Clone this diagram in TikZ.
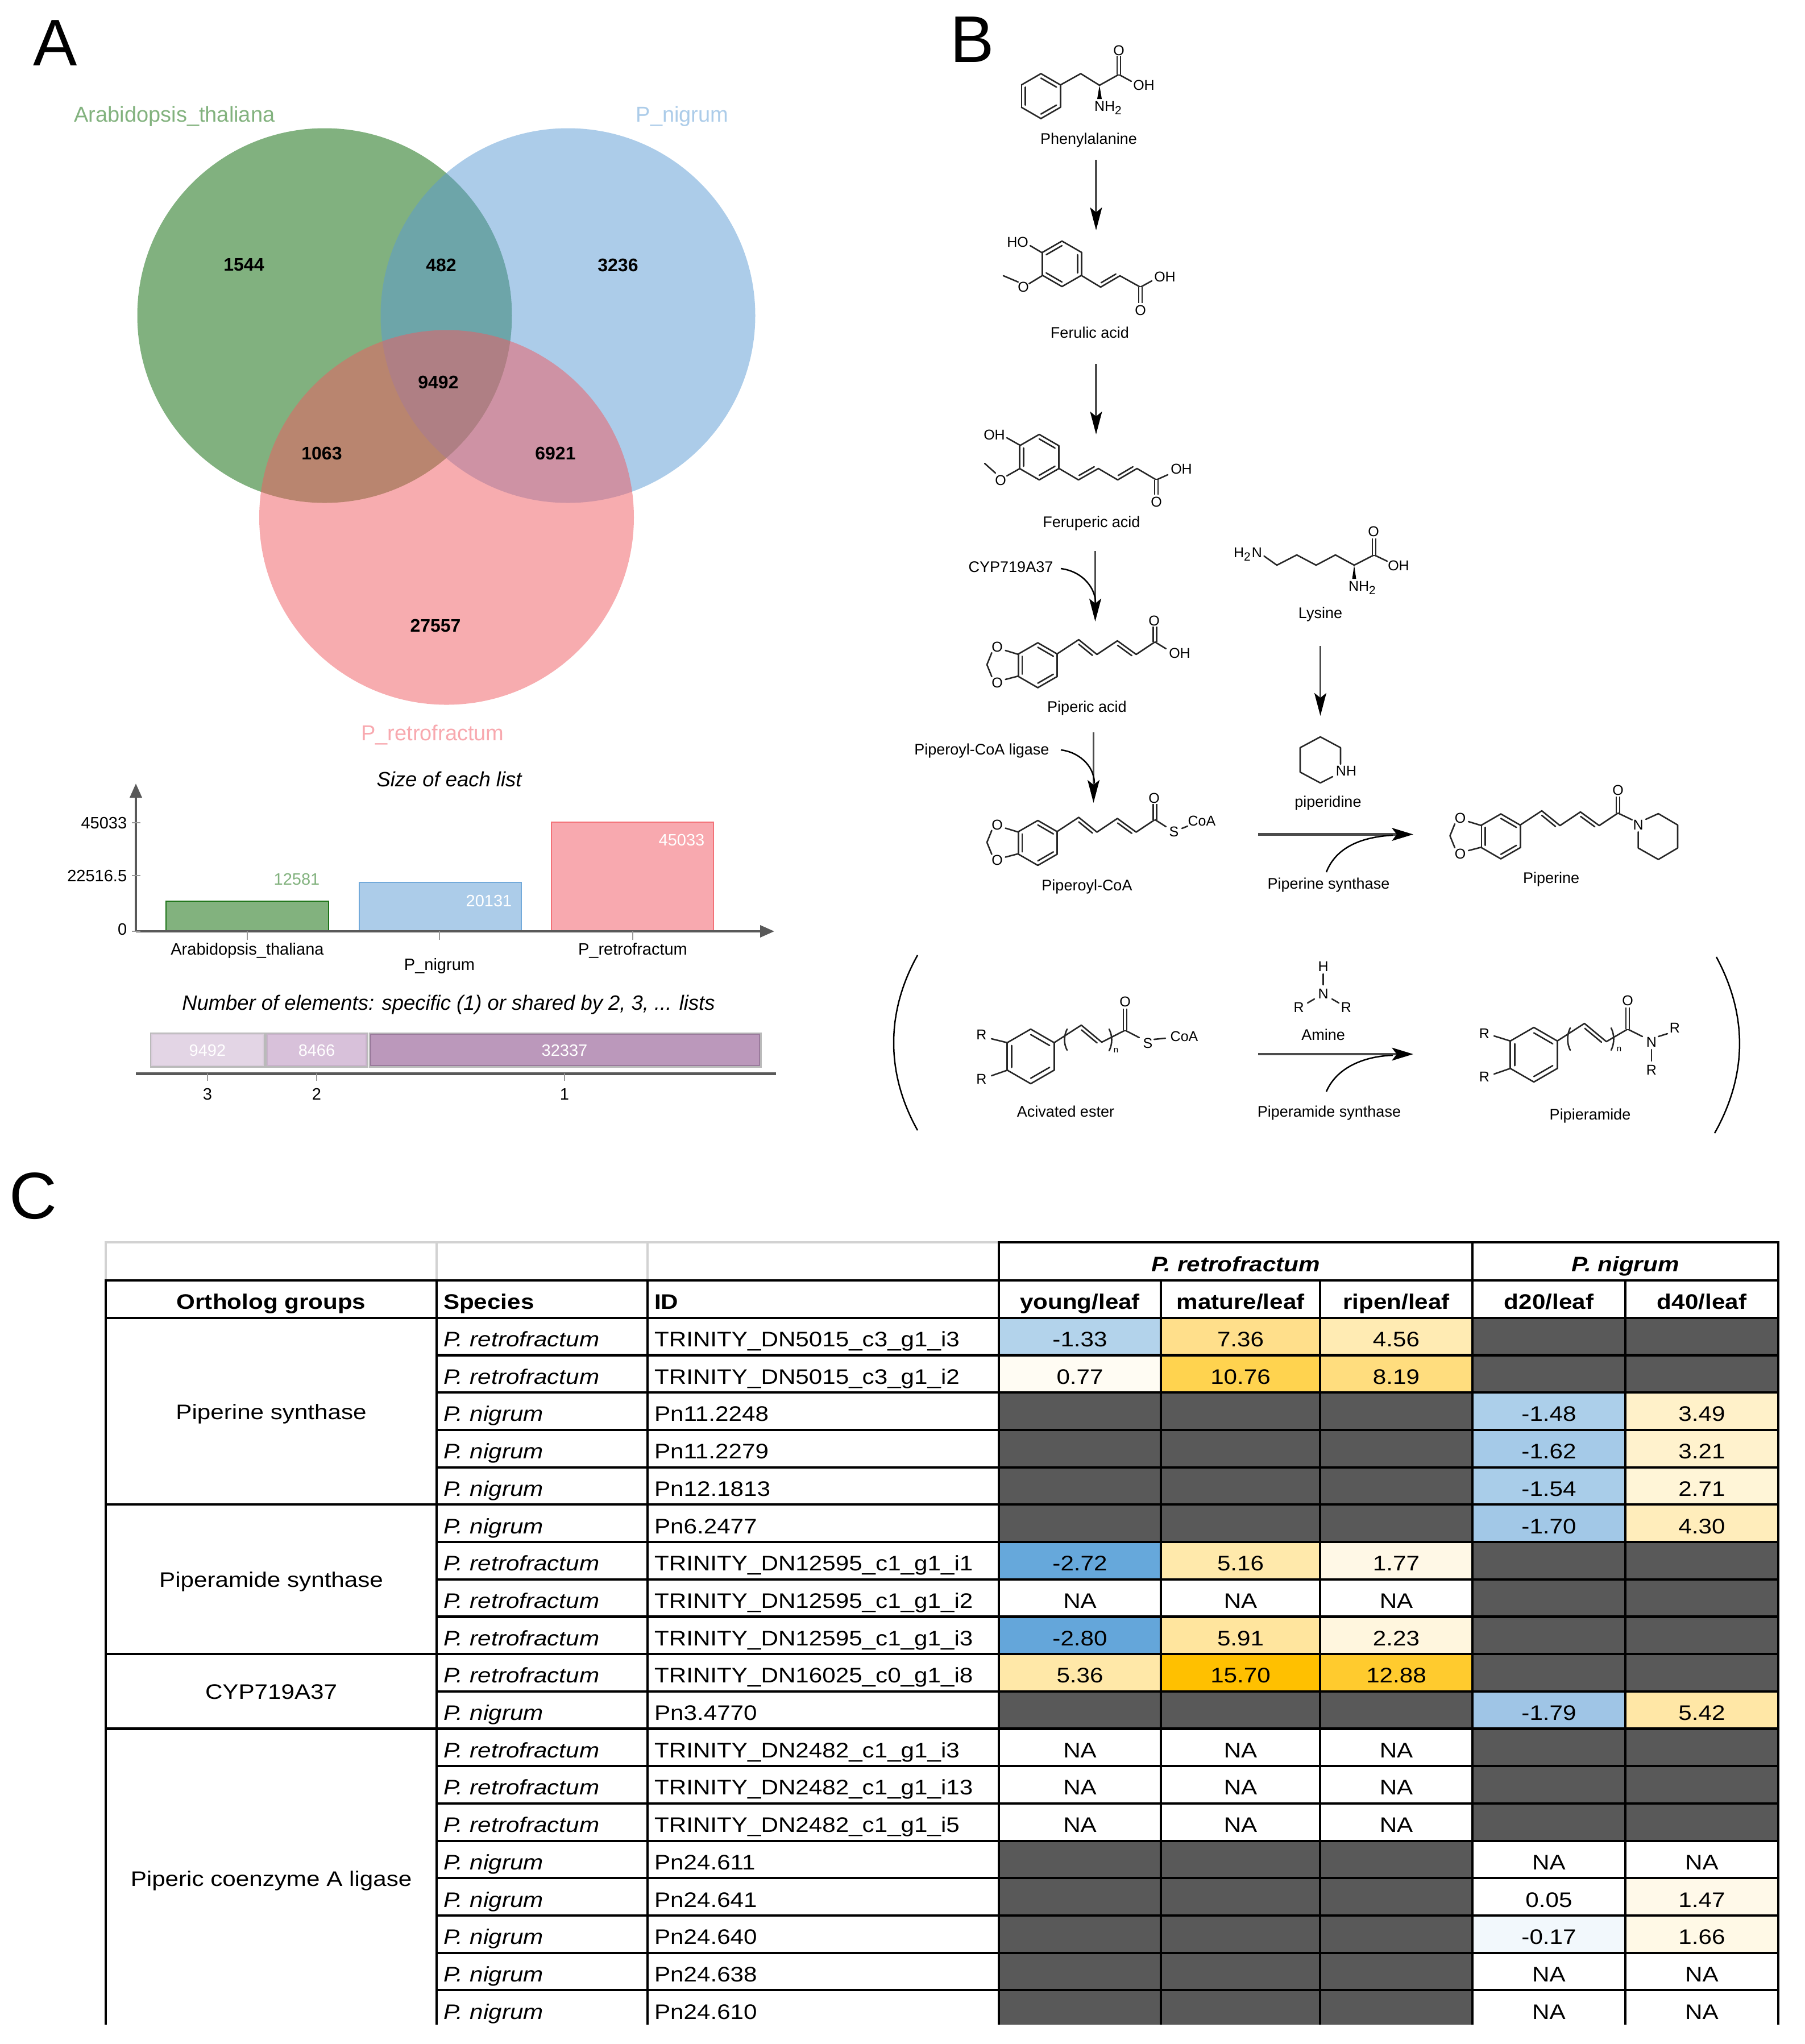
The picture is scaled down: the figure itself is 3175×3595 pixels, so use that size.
\documentclass[tikz,border=0pt]{standalone}
\usepackage{fontspec}
\setmainfont{Liberation Sans}
\newfontfamily\tabfont[FakeStretch=1.14]{Liberation Sans}
\usetikzlibrary{matrix, positioning, calc, arrows.meta}

\definecolor{vgreen}{HTML}{056500}
\definecolor{vblue}{HTML}{5A9BD4}
\definecolor{vpink}{HTML}{F15A60}
\definecolor{lgreen}{HTML}{82B27E}
\definecolor{lblue}{HTML}{ACCCE9}
\definecolor{lpink}{HTML}{F8A9AF}
\definecolor{axgray}{HTML}{595959}
\definecolor{cellgray}{HTML}{595959}
\definecolor{gridgray}{HTML}{D2D2D2}

\newcommand{\fpx}[1]{\fontsize{\the\dimexpr#1pt*24/100\relax}{\the\dimexpr#1pt*28/100\relax}\selectfont}
\newcommand{\spR}{\textit{P. retrofractum}}
\newcommand{\spN}{\textit{P. nigrum}}
% hexagon ring, centre x y, radius, edges with a second line
\newcommand{\benz}[4]{%
  \foreach \a in {-90,-30,30,90,150,210}
    \draw[bd] ({#1+#3*cos(\a)},{#2+#3*sin(\a)}) -- ({#1+#3*cos(\a+60)},{#2+#3*sin(\a+60)});
  \foreach \a in {#4}
    \draw[bd] ({#1+.8*#3*cos(\a)},{#2+.8*#3*sin(\a)}) -- ({#1+.8*#3*cos(\a+60)},{#2+.8*#3*sin(\a+60)});
}
\newcommand{\dbl}[3]{\draw[bd] ($#1!.12!#2!1.5pt!#3:#2$) -- ($#2!.12!#1!1.5pt!-#3:#1$);}
% methylenedioxy ring with the dienyl chain, name prefix
\newcommand{\pipcore}[3]{%
  \begin{scope}[shift={(#1,#2)}]
    \benz{0}{0}{39.5}{-90,30,150}
    \node[atm] (#3oa) at (-71.5,-32) {O};
    \node[atm] (#3ob) at (-71.5,30.5) {O};
    \draw[bd] (-34,-19) -- (-57,-26);
    \draw[bd] (-34,19) -- (-57,25);
    \draw[bd] (-81,-22) -- (-89.5,-1) -- (-81,20);
    \draw[bd] (34,-20) -- (72,-45) -- (104,-19) -- (140,-43) -- (173,-19) -- (206,-41);
    \dbl{(72,-45)}{(104,-19)}{-90}
    \dbl{(140,-43)}{(173,-19)}{-90}
  \end{scope}}

\begin{document}
\begin{tikzpicture}[x=.24pt,y=-.24pt,
    atm/.style={font=\fpx{25},inner sep=0pt},
    nm/.style={font=\fpx{27},inner sep=0pt},
    pnl/.style={font=\fpx{116},inner sep=0pt},
    vn/.style={font=\bfseries\fpx{32},inner sep=0pt},
    vl/.style={font=\fpx{38},inner sep=0pt},
    cl/.style={font=\fpx{29},inner sep=0pt},
    ct/.style={font=\itshape\fpx{36.4},inner sep=0pt},
    bd/.style={draw=black!85,line width=.62pt,line cap=round,line join=round},
    bdd/.style={bd,double,double distance=.9pt,line cap=butt},
    ar/.style={draw=black!70,line width=.8pt,-{Stealth[length=9.6pt,width=5pt,inset=2pt,black]}},
    arb/.style={draw=black!70,line width=1.1pt,-{Stealth[length=9pt,width=5.4pt,inset=2pt,black]}},
    cv/.style={draw=black,line width=.6pt},
    ax/.style={draw=axgray,line width=1pt,-{Triangle[length=6pt,width=5pt]}},
    tk/.style={draw=black!40,line width=.6pt},
    m/.style={matrix of nodes,column sep=-1pt,row sep=-1pt,inner sep=0pt,outer sep=0pt,
      nodes={draw,line width=1pt,inner xsep=0pt,inner ysep=0pt,outer sep=0pt,
        text height=12.168pt,text depth=3.6pt,font=\tabfont\fpx{37}},
      column 1/.style={nodes={text width=83.28pt,inner xsep=2.88pt,align=left}},
      column 2/.style={nodes={text width=142.56pt,inner xsep=2.88pt,align=left}},
      column 3/.style={nodes={minimum width=68.4pt}},
      column 4/.style={nodes={minimum width=67.2pt}},
      column 5/.style={nodes={minimum width=64.32pt}},
      column 6/.style={nodes={minimum width=64.56pt}},
      column 7/.style={nodes={minimum width=64.56pt}}},
    b/.style={font=\tabfont\bfseries\fpx{37}},
    g/.style={fill=cellgray},
    hc/.code={\definecolor{hcol}{HTML}{#1}\pgfkeysalso{fill=hcol}},
    gp/.style={draw,fill=white,line width=1pt,outer sep=0pt,inner sep=0pt,minimum width=139.68pt,
      text height=6.7pt,text depth=0pt,font=\tabfont\fpx{37}},
    hd/.style={draw,line width=1pt,outer sep=0pt,inner sep=0pt,text height=12.24pt,text depth=3.84pt,
      font=\tabfont\bfseries\itshape\fpx{37}}]
  \useasboundingbox[fill=white] (0,0) rectangle (3175,3595);

  % panel A, three sets
  \node[pnl] (panelA) at (97,76) {A};
  \fill[vgreen,fill opacity=.5] (571,555) circle (329.5);
  \fill[vblue,fill opacity=.5] (999,555) circle (329.5);
  \fill[vpink,fill opacity=.5] (785.5,910) circle (329.5);
  \node[vl,text=lgreen] (lbAt) at (307,205) {Arabidopsis\_thaliana};
  \node[vl,text=lblue] (lbPn) at (1200,205) {P\_nigrum};
  \node[vl,text=lpink] (lbPr) at (761,1293) {P\_retrofractum};
  \foreach \v/\px/\py in {1544/429/466,482/776/466,3236/1087/466,9492/771/672,1063/566/797,6921/977/797,27557/766/1100}
    \node[vn] (v\v) at (\px,\py) {\v};

  % size of each list
  \node[ct] (ttSize) at (790,1370) {Size of each list};
  \draw[draw=vgreen!80!lgreen,line width=.6pt,fill=lgreen] (292,1638) rectangle (578,1585);
  \draw[draw=vblue!85,line width=.6pt,fill=lblue] (632,1638) rectangle (917,1552);
  \draw[draw=vpink!70!lpink,line width=.6pt,fill=lpink] (970,1638) rectangle (1255,1446);
  \coordinate (org) at (239,1638);
  \coordinate (yend) at (239,1378);
  \coordinate (xend) at (1362,1638);
  \draw[ax] (org) -- (yend);
  \draw[ax] (org) -- (xend);
  \foreach \lb/\py/\ly in {45033/1447/1447,22516.5/1540/1540,0/1638/1634}{
    \draw[tk] (232,\py) -- (247,\py);
    \node[cl,anchor=east] (yl\py) at (224,\ly) {\lb};}
  \foreach \px in {435,773,1113}
    \draw[tk] (\px,1638) -- (\px,1653);
  \node[cl] (xlAt) at (435,1672) {Arabidopsis\_thaliana};
  \node[cl] (xlPn) at (773,1699) {P\_nigrum};
  \node[cl] (xlPr) at (1113,1672) {P\_retrofractum};
  \node[cl,text=lgreen] (vlAt) at (522,1546) {12581};
  \node[cl,text=white] (vlPn) at (860,1584) {20131};
  \node[cl,text=white] (vlPr) at (1199,1477) {45033};

  % shared elements
  \node[ct] (ttNum) at (789,1767) {Number of elements: specific (1) or shared by 2, 3, ... lists};
  \foreach \xa/\xb/\cf/\cb in {266/464/E3D5E5/D9CCDB,469/645/D8C1DA/C9B2CB,651/1337/BB98BB/9A7A9C}{
    \definecolor{tf}{HTML}{\cf}
    \definecolor{tb}{HTML}{\cb}
    \draw[draw=black!27,line width=1.2pt] (\xa,1818) rectangle (\xb,1875);
    \draw[draw=tb,fill=tf,line width=.4pt] (\xa+1,1819) rectangle (\xb-1,1874);}
  \draw[draw=axgray,line width=1.2pt] (239,1888) coordinate (sa) -- (1365,1888) coordinate (sb);
  \foreach \lb/\px/\t/\py in {9492/365/3/1847,8466/557/2/1847,32337/993/1/1847}{
    \node[cl,text=white] (sv\lb) at (\px,\py) {\lb};
    \draw[tk] (\px,1888) -- (\px,1901);
    \node[cl] (st\t) at (\px,1924) {\t};}

  % panel B, route to piperine
  \node[pnl] (panelB) at (1710,70) {B};
  \benz{1831}{169}{39.5}{-90,30,150}
  \draw[bd] (1866,149) -- (1901,129.5) -- (1934,150) -- (1968,131) -- (1990,143);
  \draw[bdd] (1968,131) -- (1968,98);
  \fill[black] (1934,150) -- (1930,174) -- (1938,174) -- cycle;
  \node[atm] (phO) at (1968,89) {O};
  \node[atm] (phOH) at (2012,150) {OH};
  \node[atm] (phN) at (1950,190) {NH\textsubscript{2}};
  \node[nm] (phNm) at (1915,246) {Phenylalanine};
  \coordinate (a1s) at (1928,281);
  \coordinate (a1e) at (1928,405);
  \draw[ar] (a1s) -- (a1e);

  \benz{1868}{464}{40}{-30,90,210}
  \draw[bd] (1833,444.5) -- (1812,432);
  \draw[bd] (1833,485) -- (1810,499);
  \draw[bd] (1791,496) -- (1765,485);
  \draw[bd] (1903,485) -- (1936,505) -- (1970,485) -- (2006,505) -- (2026,494);
  \dbl{(1936,505)}{(1970,485)}{90}
  \draw[bdd] (2006,505) -- (2006,533);
  \node[atm] (feHO) at (1790,426) {HO};
  \node[atm] (feO) at (1800,505) {O};
  \node[atm] (feOb) at (2006,546) {O};
  \node[atm] (feOH) at (2049,487) {OH};
  \node[nm] (feNm) at (1917,585) {Ferulic acid};
  \coordinate (a2s) at (1928,640);
  \coordinate (a2e) at (1928,764);
  \draw[ar] (a2s) -- (a2e);

  \benz{1828}{804}{40}{-90,30,150}
  \draw[bd] (1794,783) -- (1771,770);
  \draw[bd] (1794,824) -- (1771,837);
  \draw[bd] (1751,832) -- (1732,815);
  \draw[bd] (1863,824) -- (1897,844) -- (1932,824) -- (1966,844) -- (2000,824) -- (2034,844) -- (2054,835);
  \dbl{(1897,844)}{(1932,824)}{90}
  \dbl{(1966,844)}{(2000,824)}{90}
  \draw[bdd] (2034,844) -- (2034,870);
  \node[atm] (fpOH) at (1749,765) {OH};
  \node[atm] (fpO) at (1760,845) {O};
  \node[atm] (fpOb) at (2034,883) {O};
  \node[atm] (fpOHb) at (2078,825) {OH};
  \node[nm] (fpNm) at (1920,920) {Feruperic acid};
  \coordinate (a3s) at (1926.5,969);
  \coordinate (a3e) at (1926.5,1093);
  \draw[ar] (a3s) -- (a3e);
  \node[nm] (cyp) at (1778,997) {CYP719A37};
  \coordinate (c1s) at (1866,1000);
  \coordinate (c1e) at (1927,1060);
  \draw[cv] (c1s) .. controls (1905,1005) and (1927,1035) .. (c1e);

  \pipcore{1825.5}{1170}{pa}
  \draw[bdd] (2031.5,1129) -- (2031.5,1102);
  \draw[bd] (2031.5,1129) -- (2051,1141);
  \node[atm] (paO) at (2030,1092) {O};
  \node[atm] (paOH) at (2075,1149) {OH};
  \node[nm] (paNm) at (1912,1245) {Piperic acid};
  \coordinate (a4s) at (1923.5,1288);
  \coordinate (a4e) at (1923.5,1412);
  \draw[ar] (a4s) -- (a4e);
  \node[nm] (pcl) at (1727,1320) {Piperoyl-CoA ligase};
  \coordinate (c2s) at (1866,1319);
  \coordinate (c2e) at (1925,1378);
  \draw[cv] (c2s) .. controls (1895,1322) and (1925,1345) .. (c2e);

  \pipcore{1825.5}{1482.5}{pc}
  \draw[bdd] (2031.5,1441.5) -- (2031.5,1414);
  \draw[bd] (2031.5,1441.5) -- (2051,1454);
  \draw[bd] (2079,1457) -- (2089,1453);
  \node[atm] (pcO) at (2030,1403.5) {O};
  \node[atm] (pcS) at (2065,1463) {S};
  \node[atm] (pcCoA) at (2114,1444) {CoA};
  \node[nm] (pcNm) at (1912,1559) {Piperoyl-CoA};

  \draw[bd] (2223.5,978) -- (2246,994) -- (2281,976) -- (2315,994) -- (2349,976) -- (2382,994) -- (2417,976) -- (2440,987);
  \draw[bdd] (2417,976) -- (2417,947);
  \fill[black] (2382,994) -- (2378.5,1018) -- (2385.5,1018) -- cycle;
  \node[atm] (lyN) at (2195,975) {H\textsubscript{2}N};
  \node[atm] (lyO) at (2416,935) {O};
  \node[atm] (lyOH) at (2460,995) {OH};
  \node[atm] (lyNb) at (2397,1034) {NH\textsubscript{2}};
  \node[nm] (lyNm) at (2322.5,1080) {Lysine};
  \coordinate (a5s) at (2322.5,1136);
  \coordinate (a5e) at (2322.5,1259);
  \draw[ar] (a5s) -- (a5e);
  \draw[bd] (2358,1344) -- (2358,1315) -- (2322.5,1296) -- (2287,1315) -- (2287,1358) -- (2322.5,1377) -- (2344,1366);
  \node[atm] (pdN) at (2368,1356) {NH};
  \node[nm] (pdNm) at (2336,1412) {piperidine};

  \coordinate (a6s) at (2213,1467.5);
  \coordinate (a6e) at (2486,1467.5);
  \draw[arb] (a6s) -- (a6e);
  \coordinate (c3s) at (2333,1534);
  \coordinate (c3e) at (2450,1469);
  \draw[cv] (c3s) .. controls (2350,1490) and (2395,1472) .. (c3e);
  \node[nm] (psNm) at (2337,1556) {Piperine synthase};

  \pipcore{2640}{1471}{pi}
  \draw[bdd] (2846,1430) -- (2846,1401);
  \draw[bd] (2846,1430) -- (2871,1442);
  \draw[bd] (2895,1441) -- (2917,1431) -- (2951,1451) -- (2951,1491.5) -- (2917,1511.6) -- (2881.6,1491.5) -- (2881.6,1463);
  \node[atm] (piO) at (2846,1390) {O};
  \node[atm] (piN) at (2881.6,1451) {N};
  \node[nm] (piNm) at (2728.6,1546) {Piperine};

  % bracket, general route
  \coordinate (lpa) at (1614,1680);
  \coordinate (lpb) at (1614,1988);
  \coordinate (rpa) at (3019,1683);
  \coordinate (rpb) at (3016,1993);
  \draw[cv] (lpa) .. controls (1558,1780) and (1558,1888) .. (lpb);
  \draw[cv] (rpa) .. controls (3074,1785) and (3074,1890) .. (rpb);

  \benz{1813}{1858}{48}{-90,30,150}
  \draw[bd] (1772.5,1834) -- (1744,1827);
  \draw[bd] (1772.5,1882) -- (1744,1892);
  \draw[bd] (1854,1834) -- (1902,1803) -- (1938,1833) -- (1979,1812) -- (2004,1825);
  \dbl{(1902,1803)}{(1938,1833)}{-90}
  \draw[bdd] (1979,1812) -- (1979,1774);
  \draw[bd] (2030,1828) -- (2050,1826);
  \draw[bd] (1877,1810) .. controls (1871,1822) and (1871,1836) .. (1877,1847);
  \draw[bd] (1951,1810) .. controls (1957,1822) and (1957,1836) .. (1951,1848);
  \node[atm] (aeRa) at (1726.5,1820) {R};
  \node[atm] (aeRb) at (1726.5,1898) {R};
  \node[atm] (aeO) at (1979,1762) {O};
  \node[atm] (aeS) at (2019,1835) {S};
  \node[atm] (aeCoA) at (2083,1823) {CoA};
  \node[atm,font=\fpx{15}] (aeN) at (1963,1847) {n};
  \node[nm] (aeNm) at (1874.5,1955) {Acivated ester};

  \draw[bd] (2327.6,1713) -- (2327.6,1732);
  \draw[bd] (2312,1757) -- (2300,1764);
  \draw[bd] (2343,1757) -- (2355,1764);
  \node[atm] (amH) at (2327.6,1700) {H};
  \node[atm] (amN) at (2327.6,1748) {N};
  \node[atm] (amRa) at (2284.7,1772) {R};
  \node[atm] (amRb) at (2368,1772) {R};
  \node[nm] (amNm) at (2327.6,1820) {Amine};
  \coordinate (a7s) at (2213,1854);
  \coordinate (a7e) at (2486,1854);
  \draw[arb] (a7s) -- (a7e);
  \coordinate (c4s) at (2333,1920);
  \coordinate (c4e) at (2450,1856);
  \draw[cv] (c4s) .. controls (2350,1880) and (2395,1858) .. (c4e);
  \node[nm] (psyNm) at (2338,1957) {Piperamide synthase};

  \benz{2698}{1855}{48}{-90,30,150}
  \draw[bd] (2657,1831) -- (2628,1822);
  \draw[bd] (2657,1879) -- (2628,1889);
  \draw[bd] (2739,1831) -- (2787,1800) -- (2825.6,1832) -- (2863,1810) -- (2889,1823);
  \dbl{(2787,1800)}{(2825.6,1832)}{-90}
  \draw[bdd] (2863,1810) -- (2863,1772);
  \draw[bd] (2917,1823) -- (2933,1818);
  \draw[bd] (2905,1846) -- (2905,1866);
  \draw[bd] (2762,1808) .. controls (2756,1820) and (2756,1835) .. (2762,1847);
  \draw[bd] (2834,1808) .. controls (2840,1820) and (2840,1835) .. (2834,1847);
  \node[atm] (pmRa) at (2611,1818) {R};
  \node[atm] (pmRb) at (2611,1894) {R};
  \node[atm] (pmO) at (2863,1760) {O};
  \node[atm] (pmN) at (2905,1833) {N};
  \node[atm] (pmRc) at (2946,1808) {R};
  \node[atm] (pmRd) at (2905,1882) {R};
  \node[atm,font=\fpx{15}] (pmNn) at (2848,1845) {n};
  \node[nm] (pmNm) at (2797,1962) {Pipieramide};

  % panel C, expression table
  \node[pnl] (panelC) at (58,2104) {C};
  \begin{scope}
    \clip (0,2150) rectangle (3175,3560);
    \foreach \xa/\xb in {186/768,768/1139,1139/1757}
      \draw[draw=gridgray,line width=1pt] (\xa,2252) -- (\xa,2185) -- (\xb,2185);
    \matrix (tbl) [m,anchor=north west] at (766,2250) {
      |[b]|Species&|[b]|ID&|[b]|young/leaf&|[b]|mature/leaf&|[b]|ripen/leaf&|[b]|d20/leaf&|[b]|d40/leaf\\
      \spR&TRINITY\_DN5015\_c3\_g1\_i3&|[hc=B3D3EB]|-1.33&|[hc=FFDF8B]|7.36&|[hc=FFEBB3]|4.56&|[g]|&|[g]|\\
      \spR&TRINITY\_DN5015\_c3\_g1\_i2&|[hc=FFFCF3]|0.77&|[hc=FFD34F]|10.76&|[hc=FFDD7E]|8.19&|[g]|&|[g]|\\
      \spN&Pn11.2248&|[g]|&|[g]|&|[g]|&|[hc=ACCFEA]|-1.48&|[hc=FFF1C9]|3.49\\
      \spN&Pn11.2279&|[g]|&|[g]|&|[g]|&|[hc=A5CAE8]|-1.62&|[hc=FFF2CD]|3.21\\
      \spN&Pn12.1813&|[g]|&|[g]|&|[g]|&|[hc=A9CDE9]|-1.54&|[hc=FFF5D7]|2.71\\
      \spN&Pn6.2477&|[g]|&|[g]|&|[g]|&|[hc=A2C8E7]|-1.70&|[hc=FFEDBB]|4.30\\
      \spR&TRINITY\_DN12595\_c1\_g1\_i1&|[hc=66A8DB]|-2.72&|[hc=FFE9AB]|5.16&|[hc=FFF8E6]|1.77&|[g]|&|[g]|\\
      \spR&TRINITY\_DN12595\_c1\_g1\_i2&NA&NA&NA&|[g]|&|[g]|\\
      \spR&TRINITY\_DN12595\_c1\_g1\_i3&|[hc=64A6DA]|-2.80&|[hc=FFE59E]|5.91&|[hc=FFF6DE]|2.23&|[g]|&|[g]|\\
      \spR&TRINITY\_DN16025\_c0\_g1\_i8&|[hc=FFE8A8]|5.36&|[hc=FFC000]|15.70&|[hc=FFCB2E]|12.88&|[g]|&|[g]|\\
      \spN&Pn3.4770&|[g]|&|[g]|&|[g]|&|[hc=9FC5E6]|-1.79&|[hc=FFE7A6]|5.42\\
      \spR&TRINITY\_DN2482\_c1\_g1\_i3&NA&NA&NA&|[g]|&|[g]|\\
      \spR&TRINITY\_DN2482\_c1\_g1\_i13&NA&NA&NA&|[g]|&|[g]|\\
      \spR&TRINITY\_DN2482\_c1\_g1\_i5&NA&NA&NA&|[g]|&|[g]|\\
      \spN&Pn24.611&|[g]|&|[g]|&|[g]|&NA&NA\\
      \spN&Pn24.641&|[g]|&|[g]|&|[g]|&0.05&|[hc=FFF9E9]|1.47\\
      \spN&Pn24.640&|[g]|&|[g]|&|[g]|&|[hc=F2F8FC]|-0.17&|[hc=FFF9E6]|1.66\\
      \spN&Pn24.638&|[g]|&|[g]|&|[g]|&NA&NA\\
      \spN&Pn24.610&|[g]|&|[g]|&|[g]|&NA&NA\\
    };
    \node[gp,anchor=north east,minimum height=15.768pt,text height=12.168pt,text depth=3.6pt,font=\tabfont\bfseries\fpx{37}] (grpHd) at (tbl-1-1.north west) {Ortholog groups};
    \node[gp,anchor=north east,minimum height=78.84pt] (grpA) at (tbl-2-1.north west) {Piperine synthase};
    \node[gp,anchor=north east,minimum height=63.072pt] (grpB) at (tbl-7-1.north west) {Piperamide synthase};
    \node[gp,anchor=north east,minimum height=31.536pt] (grpC) at (tbl-11-1.north west) {CYP719A37};
    \node[gp,anchor=north east,minimum height=126.144pt] (grpD) at (tbl-13-1.north west) {Piperic coenzyme A ligase};
    \node[hd,anchor=south west,minimum width=199.92pt] (hdPr) at (tbl-1-3.north west) {P. retrofractum};
    \node[hd,anchor=south west,minimum width=129.12pt] (hdPn) at (tbl-1-6.north west) {P. nigrum};
  \end{scope}
\end{tikzpicture}
\end{document}
